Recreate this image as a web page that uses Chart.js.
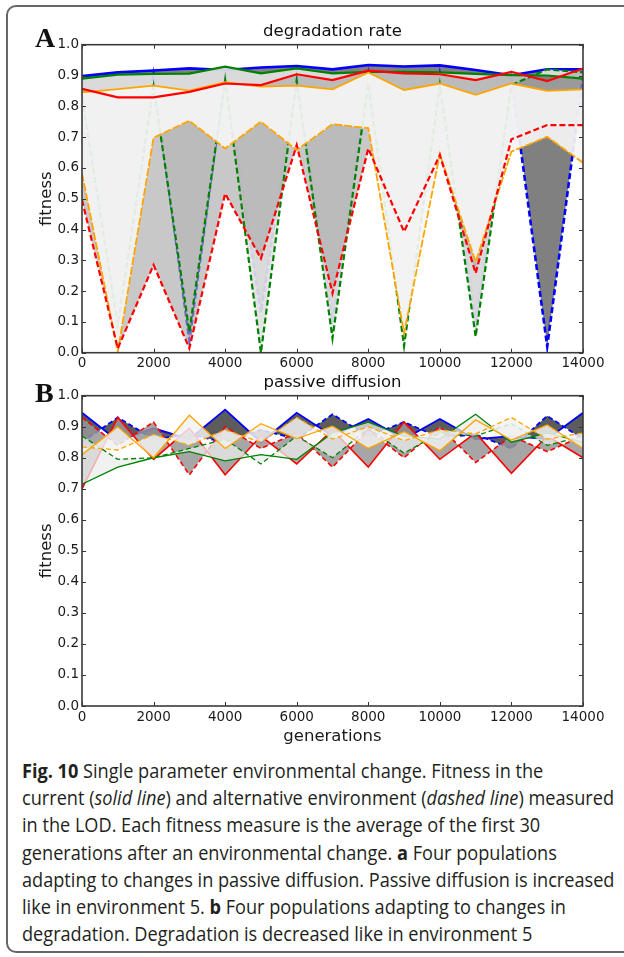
<!DOCTYPE html>
<html>
<head>
<meta charset="utf-8">
<script src="https://cdn.jsdelivr.net/npm/chart.js@4.4.1/dist/chart.umd.min.js"></script>
<style>
html, body { margin: 0; padding: 0; background: #fff; width: 624px; height: 957px; overflow: hidden; }
.frame { position: absolute; left: 6px; top: 5px; width: 660px; height: 948px; border: 2px solid #666; border-radius: 10px; box-sizing: border-box; }
canvas { position: absolute; left: 0; }
#chartA { top: 0; }
#chartB { top: 375px; }
.panel { position: absolute; left: 35px; font: bold 28px "Liberation Serif", "DejaVu Serif", serif; line-height: 28px; color: #111; }
.caption { position: absolute; left: 22px; top: 757px; font-size: 20px; line-height: 27.2px; font-family: "Open Sans", "Noto Sans", sans-serif; color: #231f20; }
.caption div { white-space: nowrap; }
.caption span.l { display: inline-block; transform-origin: 0 50%; }
</style>
</head>
<body>
<div class="frame"></div>
<canvas id="chartA" width="624" height="375"></canvas>
<canvas id="chartB" width="624" height="380"></canvas>
<div class="panel" style="top:24px">A</div>
<div class="panel" style="top:379px">B</div>
<div class="caption">
  <div><span class="l"><b>Fig. 10</b> Single parameter environmental change. Fitness in the</span></div>
  <div><span class="l">current (<i>solid line</i>) and alternative environment (<i>dashed line</i>) measured</span></div>
  <div><span class="l">in the LOD. Each fitness measure is the average of the first 30</span></div>
  <div><span class="l">generations after an environmental change. <b>a</b> Four populations</span></div>
  <div><span class="l">adapting to changes in passive diffusion. Passive diffusion is increased</span></div>
  <div><span class="l">like in environment 5. <b>b</b> Four populations adapting to changes in</span></div>
  <div><span class="l">degradation. Degradation is decreased like in environment 5</span></div>
</div>
<script>
const generations = [0, 1000, 2000, 3000, 4000, 5000, 6000, 7000, 8000, 9000, 10000, 11000, 12000, 13000, 14000]
const xTickValues = [0, 2000, 4000, 6000, 8000, 10000, 12000, 14000]
const yTickValues = [0, 0.1, 0.2, 0.3, 0.4, 0.5, 0.6, 0.7, 0.8, 0.9, 1.0]

// panel A: degradation rate
const degBlueSolid = [0.898, 0.910, 0.916, 0.923, 0.918, 0.926, 0.931, 0.920, 0.934, 0.929, 0.933, 0.918, 0.901, 0.920, 0.920]
const degBlueDashed = [0.890, 0.120, 0.900, 0.040, 0.900, 0.130, 0.900, 0.100, 0.900, 0.080, 0.900, 0.100, 0.888, 0.020, 0.900]
const degGreenSolid = [0.890, 0.903, 0.905, 0.906, 0.929, 0.907, 0.923, 0.907, 0.912, 0.912, 0.910, 0.905, 0.901, 0.900, 0.890]
const degGreenDashed = [0.830, 0.090, 0.864, 0.068, 0.885, 0.000, 0.885, 0.047, 0.874, 0.022, 0.869, 0.052, 0.869, 0.920, 0.910]
const degRedSolid = [0.857, 0.829, 0.829, 0.847, 0.874, 0.869, 0.904, 0.885, 0.916, 0.907, 0.904, 0.885, 0.912, 0.882, 0.923]
const degRedDashed = [0.496, 0.014, 0.285, 0.014, 0.517, 0.306, 0.674, 0.193, 0.663, 0.393, 0.642, 0.258, 0.693, 0.739, 0.739]
const degOrangeSolid = [0.845, 0.856, 0.867, 0.851, 0.878, 0.864, 0.867, 0.855, 0.910, 0.853, 0.874, 0.837, 0.874, 0.850, 0.855]
const degOrangeDashed = [0.582, 0.003, 0.698, 0.753, 0.663, 0.750, 0.658, 0.742, 0.729, 0.063, 0.645, 0.295, 0.653, 0.701, 0.617]

// panel B: passive diffusion
const difBlueSolid = [0.945, 0.855, 0.895, 0.860, 0.955, 0.850, 0.945, 0.870, 0.925, 0.860, 0.925, 0.860, 0.870, 0.860, 0.945]
const difBlueDashed = [0.850, 0.930, 0.860, 0.875, 0.850, 0.890, 0.860, 0.940, 0.870, 0.915, 0.865, 0.875, 0.830, 0.935, 0.860]
const difGreenSolid = [0.715, 0.770, 0.800, 0.820, 0.790, 0.810, 0.795, 0.880, 0.915, 0.870, 0.860, 0.940, 0.850, 0.880, 0.850]
const difGreenDashed = [0.870, 0.795, 0.800, 0.830, 0.860, 0.780, 0.870, 0.800, 0.895, 0.815, 0.880, 0.870, 0.910, 0.840, 0.870]
const difRedSolid = [0.700, 0.930, 0.795, 0.895, 0.745, 0.870, 0.780, 0.890, 0.770, 0.915, 0.795, 0.880, 0.750, 0.870, 0.800]
const difRedDashed = [0.930, 0.840, 0.915, 0.745, 0.900, 0.830, 0.880, 0.770, 0.890, 0.800, 0.900, 0.785, 0.870, 0.820, 0.870]
const difOrangeSolid = [0.810, 0.900, 0.800, 0.937, 0.830, 0.910, 0.862, 0.902, 0.830, 0.884, 0.823, 0.922, 0.857, 0.906, 0.830]
const difOrangeDashed = [0.835, 0.825, 0.875, 0.840, 0.890, 0.850, 0.930, 0.860, 0.900, 0.855, 0.890, 0.877, 0.930, 0.860, 0.880]

const tickFont = { family: 'DejaVu Sans', size: 13.5 }
const labelFont = { family: 'DejaVu Sans', size: 16.5 }

function pairs(ys) {
    return generations.map((g, i) => ({ x: g, y: ys[i] }))
}

// each population: band between current and alternative, then the two lines
function buildDatasets(pops) {
    const ds = []
    pops.forEach(p => {
        const base = ds.length
        ds.push({ label: p.name + ' band', data: pairs(p.solid), borderColor: 'transparent', borderWidth: 0, pointRadius: 0, backgroundColor: p.band, fill: base + 2, order: p.bandOrder })
        ds.push({ label: p.name + ' current', data: pairs(p.solid), borderColor: p.color, borderWidth: p.width, pointRadius: 0, fill: false, order: p.lineOrder })
        ds.push({ label: p.name + ' alternative', data: pairs(p.dashed), borderColor: p.color, borderWidth: p.width, borderDash: p.dash, pointRadius: 0, fill: false, order: p.lineOrder })
    })
    return ds
}

const frameAndTicks = {
    id: 'frameAndTicks',
    afterDraw(chart, args, opts) {
        const { ctx, chartArea: a, scales: { x, y } } = chart
        ctx.save()
        ctx.strokeStyle = '#333'
        ctx.lineWidth = 1
        ctx.beginPath()
        x.ticks.forEach(t => {
            const px = Math.round(x.getPixelForValue(t.value)) + 0.5
            ctx.moveTo(px, a.bottom); ctx.lineTo(px, a.bottom - 4)
            ctx.moveTo(px, a.top); ctx.lineTo(px, a.top + 4)
        })
        y.ticks.forEach(t => {
            const py = Math.round(y.getPixelForValue(t.value)) + 0.5
            ctx.moveTo(a.left, py); ctx.lineTo(a.left + 4, py)
            ctx.moveTo(a.right, py); ctx.lineTo(a.right - 4, py)
        })
        ctx.stroke()
        ctx.lineWidth = 1.6
        ctx.strokeStyle = '#3a3a3a'
        ctx.strokeRect(a.left, a.top, a.right - a.left, a.bottom - a.top)
        ctx.fillStyle = '#111'
        ctx.font = '16.5px "DejaVu Sans"'
        ctx.textAlign = 'center'
        ctx.textBaseline = 'middle'
        ctx.fillText(opts.title, (a.left + a.right) / 2, a.top - 13)
        ctx.restore()
    }
}

function makeChart(id, pops, title, padTop, xAxisHeight, showXTitle) {
    return new Chart(document.getElementById(id), {
        type: 'line',
        data: { datasets: buildDatasets(pops) },
        plugins: [frameAndTicks],
        options: {
            responsive: false,
            animation: false,
            devicePixelRatio: 1,
            layout: { padding: { top: padTop, right: 41, left: 0, bottom: 0 } },
            plugins: {
                legend: { display: false },
                tooltip: { enabled: false },
                filler: { propagate: false },
                frameAndTicks: { title: title }
            },
            scales: {
                x: {
                    type: 'linear', min: 0, max: 14000,
                    afterBuildTicks: s => { s.ticks = xTickValues.map(v => ({ value: v })) },
                    afterFit: s => { s.height = xAxisHeight },
                    grid: { display: false, drawTicks: false },
                    border: { display: false },
                    ticks: { font: tickFont, color: '#1a1a1a', padding: 3, maxRotation: 0, autoSkip: false, callback: v => String(v) },
                    title: { display: showXTitle, text: 'generations', font: labelFont, color: '#1a1a1a', padding: { top: 0, bottom: 8 } }
                },
                y: {
                    min: 0, max: 1,
                    afterBuildTicks: s => { s.ticks = yTickValues.map(v => ({ value: v })) },
                    afterFit: s => { s.width = 82 },
                    grid: { display: false, drawTicks: false },
                    border: { display: false },
                    ticks: { font: tickFont, color: '#1a1a1a', padding: 3, autoSkip: false, callback: v => v.toFixed(1) },
                    title: { display: true, text: 'fitness', font: labelFont, color: '#1a1a1a', padding: { top: 36.5, bottom: 0 } }
                }
            }
        }
    })
}

const dashA = [6, 3]
makeChart('chartA', [
    { name: 'blue', solid: degBlueSolid, dashed: degBlueDashed, color: '#0000ff', width: 2.6, dash: dashA, band: '#808080', bandOrder: 8, lineOrder: 7 },
    { name: 'green', solid: degGreenSolid, dashed: degGreenDashed, color: '#008000', width: 2.2, dash: dashA, band: 'rgba(226,226,226,0.92)', bandOrder: 6, lineOrder: 4 },
    { name: 'red', solid: degRedSolid, dashed: degRedDashed, color: '#ff0000', width: 2.2, dash: dashA, band: 'rgba(169,169,169,0.64)', bandOrder: 5, lineOrder: 1 },
    { name: 'orange', solid: degOrangeSolid, dashed: degOrangeDashed, color: '#ffa500', width: 1.8, dash: [8, 2], band: 'rgba(245,245,245,0.92)', bandOrder: 3, lineOrder: 2 }
], 'degradation rate', 44.7, 22.3, false)

const dashB = [5, 3]
makeChart('chartB', [
    { name: 'blue', solid: difBlueSolid, dashed: difBlueDashed, color: '#0000ff', width: 1.8, dash: dashB, band: '#5c5c5c', bandOrder: 8, lineOrder: 7 },
    { name: 'red', solid: difRedSolid, dashed: difRedDashed, color: '#ff0000', width: 1.6, dash: dashB, band: 'rgba(150,150,150,0.85)', bandOrder: 6, lineOrder: 5 },
    { name: 'green', solid: difGreenSolid, dashed: difGreenDashed, color: '#008000', width: 1.3, dash: dashB, band: 'rgba(236,236,236,0.75)', bandOrder: 4, lineOrder: 3 },
    { name: 'orange', solid: difOrangeSolid, dashed: difOrangeDashed, color: '#ffa500', width: 1.3, dash: dashB, band: 'rgba(242,242,242,0.85)', bandOrder: 2, lineOrder: 1 }
], 'passive diffusion', 20.7, 49, true)

// squeeze the caption lines to the width of the printed column
const lines = document.querySelectorAll('.caption span.l')
const ref = lines[1].getBoundingClientRect().width
const k = 592 / ref
lines.forEach(el => { el.style.transform = 'scaleX(' + k + ')' })
</script>
</body>
</html>
